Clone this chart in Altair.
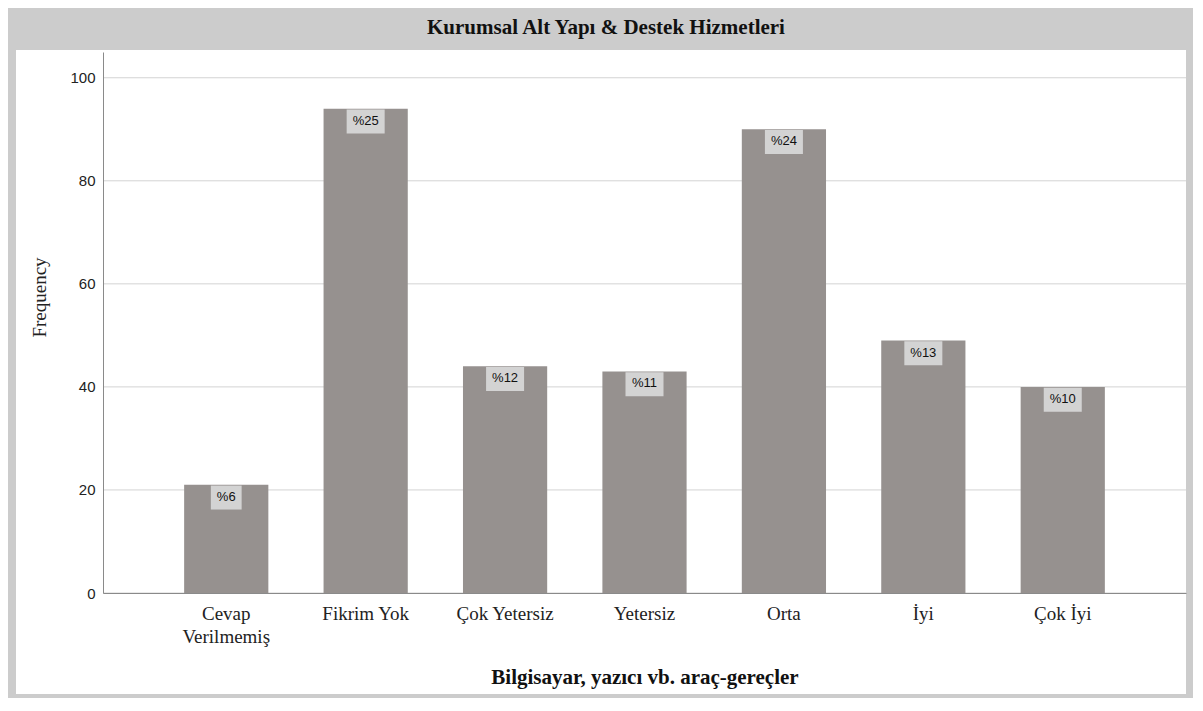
import altair as alt
import pandas as pd

categories = ["Cevap Verilmemiş", "Fikrim Yok", "Çok Yetersiz", "Yetersiz", "Orta", "İyi", "Çok  İyi"]
frequencies = [21, 94, 44, 43, 90, 49, 40]
percent_labels = ["%6", "%25", "%12", "%11", "%24", "%13", "%10"]
y_ticks = [0, 20, 40, 60, 80, 100]
chart_title = "Kurumsal Alt Yapı & Destek Hizmetleri"
x_title = "Bilgisayar, yazıcı vb. araç-gereçler"
y_title = "Frequency"

W, H = 1083, 541
SERIF = "Liberation Serif"
SANS = "Liberation Sans"

df = pd.DataFrame({"cat": categories, "freq": frequencies, "pct": percent_labels})
grid_df = pd.DataFrame({"freq": y_ticks})
one = pd.DataFrame({"t": [chart_title]})

x_enc = alt.X(
    "cat:N",
    sort=categories,
    scale=alt.Scale(paddingInner=0.396, paddingOuter=0.582),
    axis=alt.Axis(
        title=x_title,
        labelAngle=0,
        ticks=False,
        grid=False,
        domainColor="#8a8a8a",
        labelFont=SERIF,
        labelFontSize=19,
        labelColor="#222222",
        labelPadding=11,
        labelBaseline="top",
        labelLineHeight=23,
        labelExpr="datum.label == 'Cevap Verilmemiş' ? ['Cevap', 'Verilmemiş'] : datum.label",
        titleFont=SERIF,
        titleFontSize=21,
        titleFontWeight="bold",
        titleColor="#111111",
        titleY=84,
        titleBaseline="middle",
        zindex=1,
    ),
)

y_scale = alt.Scale(domain=[0, 105], nice=False)
y_axis = alt.Axis(
    title=y_title,
    values=y_ticks,
    grid=False,
    ticks=False,
    domainColor="#8a8a8a",
    labelFont=SANS,
    labelFontSize=15,
    labelColor="#222222",
    labelPadding=8,
    titleFont=SERIF,
    titleFontSize=19,
    titleFontWeight="normal",
    titleColor="#222222",
    titleX=-64,
    titleY=245,
    titleAngle=270,
    titleAlign="center",
    titleBaseline="middle",
    zindex=1,
)
y_enc = alt.Y("freq:Q", scale=y_scale, axis=y_axis)

panel = alt.Chart(one).mark_rect(color="white").encode(
    x=alt.value(-87), x2=alt.value(W), y=alt.value(-2), y2=alt.value(642)
)

grid = alt.Chart(grid_df).mark_rule(color="#d3d3d3", strokeWidth=1).encode(y=y_enc)

bars = alt.Chart(df).mark_bar(color="#96918f").encode(x=x_enc, y=y_enc)

boxes = alt.Chart(df).transform_calculate(
    top="datum.freq - 0.15",
    bottom="datum.freq - 4.8",
    bw="12 + 13 * (0.889 + 0.556 * (length(datum.pct) - 1))",
).mark_bar(color="#d3d3d3").encode(
    x=x_enc,
    y=alt.Y("top:Q", scale=y_scale, axis=y_axis),
    y2="bottom:Q",
    size=alt.Size("bw:Q", scale=None, legend=None),
)

texts = alt.Chart(df).mark_text(
    font=SANS, fontSize=13, color="#111111", baseline="middle", dy=12
).encode(x=x_enc, y=y_enc, text="pct:N")

title = alt.Chart(one).mark_text(
    font=SERIF, fontSize=21, fontWeight="bold", color="#111111", baseline="middle", align="center"
).encode(x=alt.value(503), y=alt.value(-24), text="t:N")

chart = alt.layer(panel, grid, bars, boxes, texts, title).properties(
    width=W,
    height=H,
    background="#cccccc",
    padding={"left": 95, "top": 44, "right": 7, "bottom": 105},
    autosize=alt.AutoSizeParams(type="none"),
).configure_view(stroke=None)

chart.save("out.html", embed_options={"renderer": "svg", "actions": False})
